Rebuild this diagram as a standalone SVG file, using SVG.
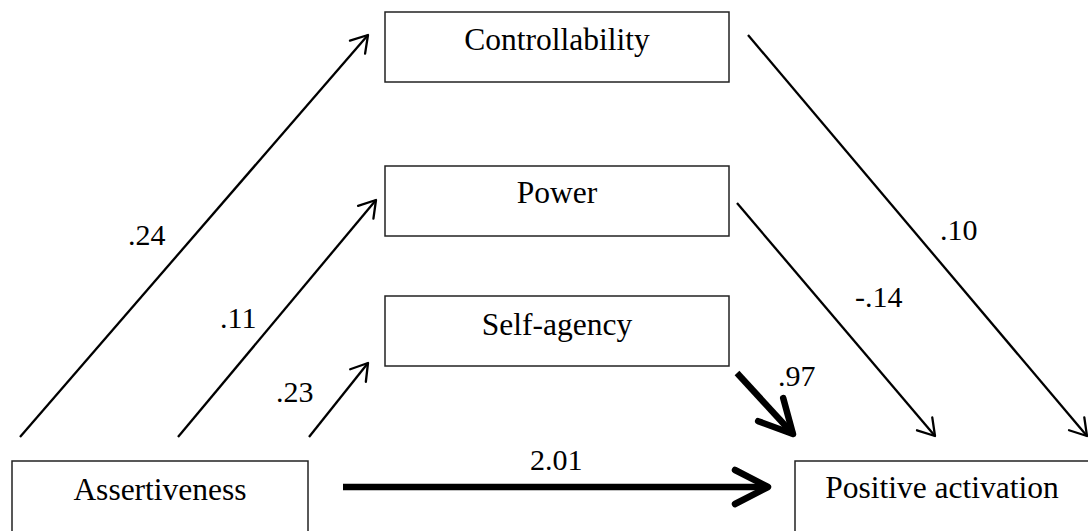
<svg xmlns="http://www.w3.org/2000/svg" width="1088" height="531" viewBox="0 0 1088 531">
<style>
.box{fill:#fff;stroke:#222;stroke-width:1.5}
.t{font-family:"Liberation Serif","Times New Roman",serif;font-size:30px;fill:#000}
.w{font-size:31.5px}
.c{text-anchor:middle}
.thin{stroke:#000;stroke-width:2.3;fill:none;marker-end:url(#ah)}
.thick{stroke:#000;stroke-width:6.5;fill:none;marker-end:url(#ahb)}
</style>
<defs>
<marker id="ah" markerUnits="userSpaceOnUse" markerWidth="40" markerHeight="40" refX="0" refY="0" orient="auto" overflow="visible">
<path d="M-16,-10 L0,0 L-16,10" fill="none" stroke="#000" stroke-width="2.3" stroke-linejoin="round" stroke-linecap="round"/>
</marker>
<marker id="ahb" markerUnits="userSpaceOnUse" markerWidth="80" markerHeight="80" refX="0" refY="0" orient="auto" overflow="visible">
<path d="M-33,-17 L0,0 L-33,17" fill="none" stroke="#000" stroke-width="6.5" stroke-linejoin="round" stroke-linecap="round"/>
</marker>
</defs>
<rect width="1088" height="531" fill="#fff"/>
<g id="controllability"><rect class="box" x="385" y="12" width="344" height="70"/><text class="t w c" x="557" y="50">Controllability</text></g>
<g id="power"><rect class="box" x="385" y="166" width="344" height="70"/><text class="t w c" x="557" y="203">Power</text></g>
<g id="self-agency"><rect class="box" x="385" y="296" width="344" height="70"/><text class="t w c" x="557" y="335">Self-agency</text></g>
<g id="assertiveness"><rect class="box" x="12" y="461" width="296" height="80"/><text class="t w c" x="160" y="500">Assertiveness</text></g>
<g id="positive-activation"><rect class="box" x="795" y="461" width="300" height="80"/><text class="t w c" x="942" y="498">Positive activation</text></g>
<g id="connectors">
<line class="thin" x1="20" y1="437" x2="368" y2="35"/>
<line class="thin" x1="178" y1="437" x2="376" y2="200"/>
<line class="thin" x1="309" y1="437" x2="368" y2="363"/>
<line class="thin" x1="748" y1="35" x2="1087" y2="436"/>
<line class="thin" x1="737" y1="203" x2="935" y2="436"/>
<line class="thick" x1="737" y1="373" x2="793" y2="434"/>
<line class="thick" x1="343" y1="487" x2="768" y2="487"/>
<text class="t" x="128" y="245">.24</text>
<text class="t" x="220" y="328">.11</text>
<text class="t" x="276" y="402">.23</text>
<text class="t" x="940" y="240">.10</text>
<text class="t" x="855" y="307">-.14</text>
<text class="t" x="778" y="386">.97</text>
<text class="t" x="530" y="470">2.01</text>
</g>
</svg>
